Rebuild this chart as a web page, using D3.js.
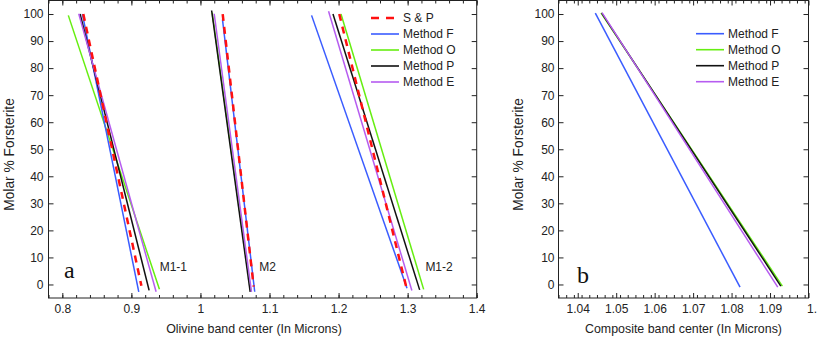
<!DOCTYPE html>
<html>
<head>
<meta charset="utf-8">
<script src="https://cdn.jsdelivr.net/npm/d3@7"></script>
<style>
  body { margin: 0; background: #fff; overflow: hidden; }
  svg { display: block; font-family: "Liberation Sans", Arial, sans-serif; }
  .tick text { font-size: 12px; fill: #222; }
  .tick line { stroke: #222; }
</style>
</head>
<body>
<div id="chart"></div>
<script>
// data: each segment is [[band center, Fo], [band center, Fo]] (top end, bottom end)
var groupNames = ["M1-1", "M2", "M1-2"];
var groupLabelX = [0.941, 1.0851, 1.3257];
var groupLabelFo = [5, 5, 5];

var sAndP   = [[[0.8304, 100], [0.9145, -0.5]], [[1.0322, 100], [1.0771, -0.8]], [[1.2010, 100], [1.2981, -1.0]]];
var methodF = [[[0.8290, 100], [0.9107, -2.7]], [[1.0319, 98],  [1.0786, -2.7]], [[1.1609, 99.5], [1.2991, -1.4]]];
var methodO = [[[0.8087, 99.5], [0.9406, -1.8]], [[1.0170, 100.5], [1.0730, -2.5]], [[1.2035, 100], [1.3232, -1.8]]];
var methodP = [[[0.8257, 100], [0.9257, -2.2]], [[1.0162, 101.3], [1.0720, -2.7]], [[1.1919, 100], [1.3174, -2.0]]];
var methodE = [[[0.8238, 100.1], [0.9358, -2.7]], [[1.0199, 100.1], [1.0739, -2.7]], [[1.1855, 101], [1.3061, -2.2]]];

var compF = [[1.04457, 100.3], [1.0822, -1.0]];
var compO = [[1.04605, 100.4], [1.0932, -0.6]];
var compP = [[1.04623, 100.3], [1.0928, -0.6]];
var compE = [[1.04631, 100.5], [1.0920, -1.0]];

var xTicksA = [0.8, 0.9, 1.0, 1.1, 1.2, 1.3, 1.4];
var xTicksB = [1.04, 1.05, 1.06, 1.07, 1.08, 1.09, 1.1];
var yTicks = [0, 10, 20, 30, 40, 50, 60, 70, 80, 90, 100];

var colors = {
  "S & P": "#ff1010",
  "Method F": "#3a5cff",
  "Method O": "#66ee11",
  "Method P": "#111111",
  "Method E": "#b65cf0"
};

var svg = d3.select('#chart').append('svg').attr('width', 817).attr('height', 339);

var yScale = d3.scaleLinear().domain([-5, 105]).range([298, 0.5]);

function drawPanel(opt) {
  var x = d3.scaleLinear().domain(opt.domain).range(opt.range);
  var g = svg.append('g');
  var left = opt.range[0], right = opt.range[1];

  // minor ticks
  var minor = d3.range(opt.domain[0], opt.domain[1] + 1e-9, opt.minorStep)
    .map(function(v) { return +v.toFixed(4); });
  g.append('g').attr('transform', 'translate(0,298)')
    .call(d3.axisBottom(x).tickValues(minor).tickSize(-3).tickFormat(''));
  g.append('g').attr('transform', 'translate(0,0.5)')
    .call(d3.axisTop(x).tickValues(minor).tickSize(-3).tickFormat(''));

  // major ticks
  var bottom = g.append('g').attr('transform', 'translate(0,298)')
    .call(d3.axisBottom(x).tickValues(opt.ticks).tickSize(-5).tickPadding(6)
      .tickFormat(function(d) { return String(+d.toFixed(3)); }));
  if (opt.lastDx) {
    bottom.selectAll('.tick text').filter(function(d) { return d === opt.ticks[opt.ticks.length - 1]; })
      .attr('text-anchor', 'start').attr('dx', opt.lastDx);
  }
  g.append('g').attr('transform', 'translate(0,0.5)')
    .call(d3.axisTop(x).tickValues(opt.ticks).tickSize(-5).tickFormat(''));
  g.append('g').attr('transform', 'translate(' + left + ',0)')
    .call(d3.axisLeft(yScale).tickValues(yTicks).tickSize(-5).tickPadding(opt.yPad));
  g.append('g').attr('transform', 'translate(' + right + ',0)')
    .call(d3.axisRight(yScale).tickValues(yTicks).tickSize(-5).tickFormat(''));
  g.selectAll('.domain').remove();

  g.append('rect')
    .attr('x', left).attr('y', 0.5)
    .attr('width', right - left).attr('height', 297.5)
    .attr('fill', 'none').attr('stroke', '#222').attr('stroke-width', 1);

  // axis titles
  g.append('text')
    .attr('x', opt.xTitleX).attr('y', 333)
    .attr('text-anchor', 'middle').attr('font-size', '12.4px').attr('fill', '#222')
    .text(opt.xTitle);
  g.append('text')
    .attr('transform', 'translate(' + opt.yTitleX + ',154.5) rotate(-90)')
    .attr('text-anchor', 'middle').attr('font-size', '13.8px').attr('fill', '#222')
    .text('Molar % Forsterite');

  // panel letter
  g.append('text')
    .attr('x', left + opt.letterDx).attr('y', opt.letterY)
    .attr('font-family', '"Liberation Serif", "Times New Roman", serif')
    .attr('font-size', '24px').attr('fill', '#111')
    .text(opt.letter);

  var line = d3.line()
    .x(function(d) { return x(d[0]); })
    .y(function(d) { return yScale(d[1]); });

  opt.series.forEach(function(s) {
    g.selectAll(null).data(s.segments).enter().append('path')
      .attr('d', line)
      .attr('fill', 'none')
      .attr('stroke', colors[s.name])
      .attr('stroke-width', s.dashed ? 2.5 : 1.5)
      .attr('stroke-dasharray', s.dashed ? '7,6' : null);
  });

  // legend
  var lg = g.append('g').attr('class', 'legend');
  opt.legend.forEach(function(name, i) {
    var yy = opt.legendY + i * 16;
    lg.append('line')
      .attr('x1', opt.legendX).attr('x2', opt.legendX + 28)
      .attr('y1', yy).attr('y2', yy)
      .attr('stroke', colors[name])
      .attr('stroke-width', name === 'S & P' ? 2.5 : 1.6)
      .attr('stroke-dasharray', name === 'S & P' ? '8,7' : null);
    lg.append('text')
      .attr('x', opt.legendX + 32).attr('y', yy + 4.3)
      .attr('font-size', '12px').attr('fill', '#222')
      .text(name);
  });

  return { g: g, x: x };
}

var panelA = drawPanel({
  domain: [0.78, 1.4], range: [48.5, 476.7], minorStep: 0.02,
  ticks: xTicksA, yPad: 5,
  xTitle: 'Olivine band center (In Microns)', xTitleX: 254, yTitleX: 13.5,
  letter: 'a', letterDx: 15.5, letterY: 278,
  series: [
    { name: 'Method O', segments: methodO },
    { name: 'Method F', segments: methodF },
    { name: 'Method P', segments: methodP },
    { name: 'Method E', segments: methodE },
    { name: 'S & P', segments: sAndP, dashed: true }
  ],
  legend: ['S & P', 'Method F', 'Method O', 'Method P', 'Method E'],
  legendX: 371, legendY: 18
});

panelA.g.selectAll('text.group').data(groupNames).enter().append('text')
  .attr('class', 'group')
  .attr('x', function(d, i) { return panelA.x(groupLabelX[i]); })
  .attr('y', function(d, i) { return yScale(groupLabelFo[i]); })
  .attr('font-size', '12px').attr('fill', '#222')
  .text(function(d) { return d; });

drawPanel({
  domain: [1.035, 1.1], range: [558.5, 808.5], minorStep: 0.002,
  ticks: xTicksB, yPad: 4,
  xTitle: 'Composite band center (In Microns)', xTitleX: 683.5, yTitleX: 523,
  letter: 'b', letterDx: 18.5, letterY: 282.5, lastDx: -2,
  series: [
    { name: 'Method F', segments: [compF] },
    { name: 'Method O', segments: [compO] },
    { name: 'Method P', segments: [compP] },
    { name: 'Method E', segments: [compE] }
  ],
  legend: ['Method F', 'Method O', 'Method P', 'Method E'],
  legendX: 696, legendY: 33.7
});
</script>
</body>
</html>
